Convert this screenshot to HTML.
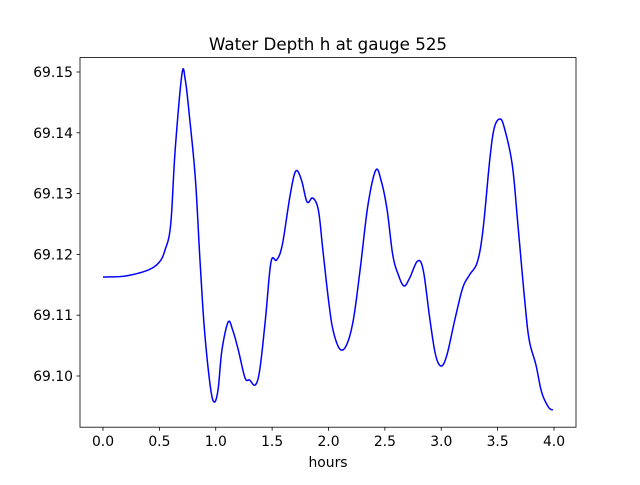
<!DOCTYPE html>
<html><head><meta charset="utf-8"><style>
body{margin:0;background:#fff}
svg text{font-family:"DejaVu Sans","Liberation Sans",sans-serif;fill:#000}
</style></head><body>
<svg id="chart" width="640" height="480" xmlns="http://www.w3.org/2000/svg">
<rect width="640" height="480" fill="#fff"/>
<text x="328" y="50" font-size="16.7" text-anchor="middle">Water Depth h at gauge 525</text>
<text x="328" y="467" font-size="13.9" text-anchor="middle">hours</text>
<g id="ticks"></g>
<polyline id="line" fill="none" stroke="#0000ff" stroke-width="1.5" stroke-linejoin="round"/>
<rect x="80" y="57.6" width="496" height="369.6" fill="none" stroke="#000" stroke-width="0.8"/>
</svg>
<script>
const hours=[0,0.2,0.4,0.5,0.55,0.6,0.64,0.7,0.73,0.77,0.82,0.86,0.9,0.95,0.985,1.02,1.055,1.11,1.15,1.2,1.26,1.3,1.35,1.39,1.44,1.49,1.54,1.59,1.66,1.71,1.76,1.81,1.86,1.91,1.95,2.0,2.04,2.1,2.16,2.22,2.28,2.35,2.42,2.47,2.52,2.57,2.62,2.67,2.72,2.79,2.84,2.9,2.95,3.0,3.05,3.12,3.19,3.25,3.32,3.37,3.43,3.47,3.52,3.56,3.63,3.68,3.74,3.78,3.84,3.89,3.95,3.99];
const depth=[69.11628,69.11645,69.11743,69.11875,69.12072,69.12484,69.13717,69.14967,69.14868,69.14211,69.13224,69.11908,69.10757,69.09852,69.09572,69.0977,69.10428,69.10888,69.10757,69.10428,69.09967,69.09934,69.09852,69.10099,69.10921,69.11875,69.11908,69.12155,69.12977,69.13372,69.13224,69.12862,69.12928,69.1273,69.12072,69.1125,69.10757,69.10444,69.1051,69.10921,69.11743,69.12813,69.13388,69.13191,69.1273,69.1199,69.11661,69.1148,69.11612,69.11891,69.11743,69.10921,69.10345,69.10164,69.10345,69.10921,69.11447,69.11661,69.11875,69.12401,69.13553,69.14079,69.14227,69.14079,69.1347,69.12484,69.1125,69.10592,69.10181,69.09737,69.0949,69.09441];
const xTicks=[0,0.5,1,1.5,2,2.5,3,3.5,4];
const xTickLabels=["0.0","0.5","1.0","1.5","2.0","2.5","3.0","3.5","4.0"];
const yTicks=[69.10,69.11,69.12,69.13,69.14,69.15];
const yTickLabels=["69.10","69.11","69.12","69.13","69.14","69.15"];
const X=v=>103+v*112.75;
const Y=v=>72+(69.15-v)*6080;
const NS="http://www.w3.org/2000/svg";
const g=document.getElementById('ticks');
function mk(t,a){const e=document.createElementNS(NS,t);for(const k in a)e.setAttribute(k,a[k]);g.appendChild(e);return e;}
xTicks.forEach((v,i)=>{
 const l=mk('line',{x1:X(v),x2:X(v),y1:427.2,y2:430.7,stroke:'#000','stroke-width':0.8});
 
 
 const t=mk('text',{x:X(v),y:446,'font-size':13.9,'text-anchor':'middle'});
 t.textContent=xTickLabels[i];
 
 
});
yTicks.forEach((v,i)=>{
 const l=mk('line',{x1:76.5,x2:80,y1:Y(v),y2:Y(v),stroke:'#000','stroke-width':0.8});
 
 
 const t=mk('text',{x:73,y:Y(v)+5,'font-size':13.9,'text-anchor':'end'});
 t.textContent=yTickLabels[i];
 
 
});
// Catmull-Rom densified points
const P=hours.map((h,i)=>[X(h),Y(depth[i])]);
const pts=[];
for(let i=0;i<P.length-1;i++){
 const p0=P[Math.max(0,i-1)],p1=P[i],p2=P[i+1],p3=P[Math.min(P.length-1,i+2)];
 for(let s=0;s<8;s++){const t=s/8,t2=t*t,t3=t2*t;
  const f=(a,b,c,d)=>0.5*(2*b+(-a+c)*t+(2*a-5*b+4*c-d)*t2+(-a+3*b-3*c+d)*t3);
  pts.push(f(p0[0],p1[0],p2[0],p3[0]).toFixed(2)+','+f(p0[1],p1[1],p2[1],p3[1]).toFixed(2));}
}
pts.push(P[P.length-1].join(','));
document.getElementById('line').setAttribute('points',pts.join(' '));
</script>
</body></html>
